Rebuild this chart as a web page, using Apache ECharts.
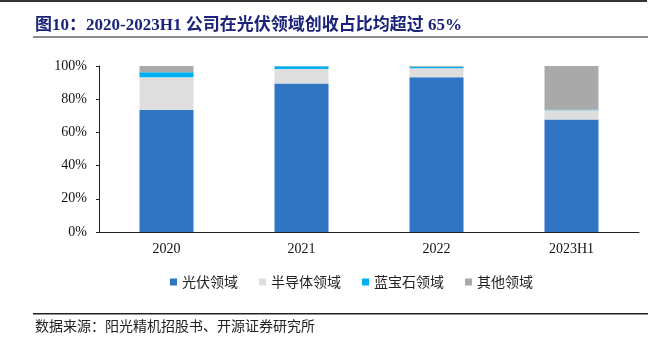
<!DOCTYPE html>
<html>
<head>
<meta charset="utf-8">
<script src="https://cdn.jsdelivr.net/npm/echarts@6/dist/echarts.min.js"></script>
<style>
  html, body { margin: 0; padding: 0; background: #fff; }
  #chart { width: 656px; height: 343px; }
</style>
</head>
<body>
<div id="chart"></div>
<script>
// Revenue share by business line (%), 2020 – 2023H1
const categories = ['2020', '2021', '2022', '2023H1'];
const seriesNames = ['光伏领域', '半导体领域', '蓝宝石领域', '其他领域'];
const photovoltaic = [73.5, 89.4, 93.2, 67.7];
const semiconductor = [19.7, 8.8, 5.4, 5.7];
const sapphire = [3.0, 1.6, 1.0, 0.3];
const others = [3.8, 0.2, 0.4, 26.3];
const yTicks = [0, 20, 40, 60, 80, 100];

const colors = ['#3074C4', '#DEDEDE', '#00B0F0', '#A9A9A9'];
const latin = '"Liberation Serif", "Times New Roman", serif';
const cjk = '"Noto Sans CJK SC", sans-serif';

const chart = echarts.init(document.getElementById('chart'), null, { renderer: 'canvas' });

const values = [photovoltaic, semiconductor, sapphire, others];

chart.setOption({
  animation: false,
  color: colors,
  grid: { left: 99, right: 17, top: 66, bottom: 111, containLabel: false },
  legend: {
    left: 165,
    top: 270,
    itemWidth: 7,
    itemHeight: 7,
    itemGap: 21,
    icon: 'rect',
    textStyle: { fontFamily: cjk, fontSize: 14, color: '#222' },
    data: seriesNames
  },
  xAxis: {
    type: 'category',
    data: categories,
    axisLine: { lineStyle: { color: '#222', width: 1 } },
    axisTick: { inside: true, length: 4, lineStyle: { color: '#222' } },
    axisLabel: { fontFamily: latin, fontSize: 14, color: '#111', margin: 10 }
  },
  yAxis: {
    type: 'value',
    min: yTicks[0],
    max: yTicks[yTicks.length - 1],
    interval: yTicks[1] - yTicks[0],
    axisLine: { show: true, lineStyle: { color: '#222', width: 1 } },
    axisTick: { show: true, length: 3, lineStyle: { color: '#222' } },
    splitLine: { show: false },
    axisLabel: { fontFamily: latin, fontSize: 14, color: '#111', margin: 12, formatter: '{value}%' }
  },
  series: seriesNames.map((name, i) => ({
    name: name,
    type: 'bar',
    stack: 'share',
    barWidth: 54,
    data: values[i],
    itemStyle: { color: colors[i] }
  })),
  graphic: [
    { type: 'rect', shape: { x: 0, y: 0, width: 647, height: 2 }, style: { fill: '#333' } },
    {
      type: 'text', left: 35, top: 17,
      style: {
        text: '图10：2020-2023H1 公司在光伏领域创收占比均超过 65%',
        font: 'bold 17px ' + latin + ', ' + cjk,
        fill: '#1B237A'
      }
    },
    { type: 'rect', shape: { x: 33, y: 36, width: 615, height: 2 }, style: { fill: '#8C8C8C' } },
    { type: 'rect', shape: { x: 33, y: 313, width: 615, height: 1.5 }, style: { fill: '#222' } },
    {
      type: 'text', left: 35, top: 319,
      style: {
        text: '数据来源：阳光精机招股书、开源证券研究所',
        font: '14px ' + cjk,
        fill: '#222'
      }
    }
  ]
});
</script>
</body>
</html>
